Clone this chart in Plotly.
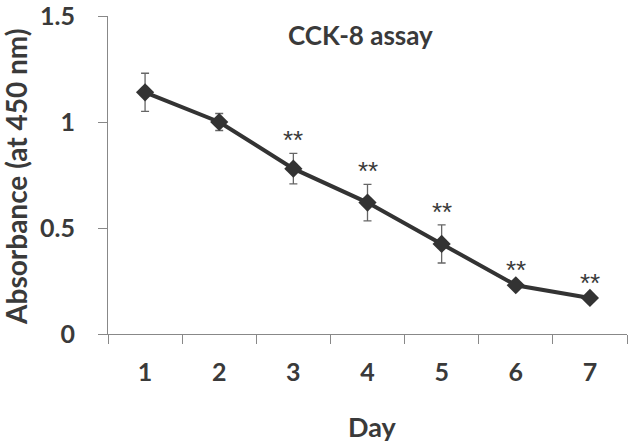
import plotly.graph_objects as go

days = ["1", "2", "3", "4", "5", "6", "7"]
absorbance = [1.14, 1.00, 0.78, 0.62, 0.425, 0.23, 0.17]
sd = [0.09, 0.04, 0.072, 0.086, 0.09, 0.01, 0.01]
significance = ["", "", "**", "**", "**", "**", "**"]

FONT = "Lato"
TXT = "#3a3a3a"

fig = go.Figure()
fig.add_trace(go.Scatter(
    x=days, y=absorbance,
    mode="lines+markers",
    line=dict(color="#333333", width=4),
    marker=dict(symbol="diamond", size=14, color="#333333"),
    error_y=dict(type="data", array=sd, visible=True, color="#666666", thickness=1.3, width=4),
    showlegend=False,
))

annotations = []
for i, (v, s, lab) in enumerate(zip(absorbance, sd, significance)):
    if lab:
        annotations.append(dict(x=i, y=v + s, xref="x", yref="y", text=lab, showarrow=False,
                                yanchor="middle", yshift=13,
                                font=dict(family="Liberation Sans", size=26, color=TXT)))

annotations.append(dict(x=0, y=0.494, xref="paper", yref="paper", xshift=-92,
                        text="<b>Absorbance (at 450 nm)</b>", textangle=-90, showarrow=False,
                        xanchor="center", yanchor="middle",
                        font=dict(family=FONT, size=28, color=TXT)))
annotations.append(dict(x=0.509, y=0, xref="paper", yref="paper", yshift=-111,
                        text="<b>Day</b>", showarrow=False, xanchor="center", yanchor="bottom",
                        font=dict(family=FONT, size=27, color=TXT)))
annotations.append(dict(x=0.486, y=0.94, xref="paper", yref="paper",
                        text="<b>CCK-8 assay</b>", showarrow=False, xanchor="center", yanchor="middle",
                        font=dict(family=FONT, size=26, color=TXT)))

fig.update_layout(
    width=630, height=446,
    margin=dict(l=108, r=3, t=16, b=112, autoexpand=False),
    paper_bgcolor="white", plot_bgcolor="white",
    annotations=annotations,
    xaxis=dict(type="category", tickson="boundaries", ticks="outside", ticklen=9,
               tickcolor="#888888", showline=True, linecolor="#888888", linewidth=1,
               showgrid=False, zeroline=False, ticklabelstandoff=16, automargin=False,
               tickfont=dict(family=FONT, size=25, color=TXT, weight="bold"),
               range=[-0.5, 6.5]),
    yaxis=dict(range=[0, 1.5], tickvals=[0, 0.5, 1, 1.5], ticktext=["0", "0.5", "1", "1.5"],
               ticks="outside", ticklen=9, tickcolor="#888888", showline=True,
               linecolor="#888888", linewidth=1, showgrid=False, zeroline=False,
               ticklabelstandoff=18, ticklabeloverflow="allow", automargin=False,
               tickfont=dict(family=FONT, size=25, color=TXT, weight="bold")),
)

fig.write_html("out.html", config={"displayModeBar": False},
               post_script="document.body.style.margin='0';document.body.style.overflow='hidden';")
